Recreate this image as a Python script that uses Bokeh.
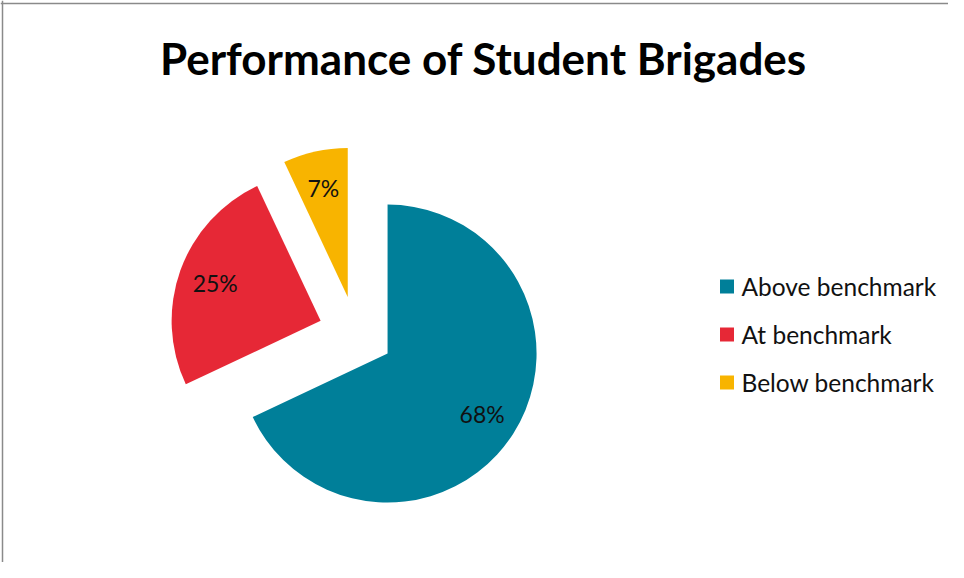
import numpy as np
from bokeh.plotting import figure
from bokeh.models import Range1d, Label, ColumnDataSource, Span
from bokeh.core.properties import value
from bokeh.embed import file_html
from bokeh.resources import INLINE

# ---- data ----
categories = ["Above benchmark", "At benchmark", "Below benchmark"]
shares = [68, 25, 7]
pct_labels = ["68%", "25%", "7%"]
colors = ["#007F99", "#E62836", "#F8B400"]
title_text = "Performance of Student Brigades"

# ---- layout (1 data unit = 1 px; y data = 578 - screen y) ----
W, H = 948, 562
CX, CY = 355.4, 245.0      # true pie centre
R = 149.0                  # radius
EXPLODE = 37.5             # explosion distance of every slice
LABEL_R = 112.0            # label distance from slice apex

frac = np.array(shares, dtype=float) / sum(shares)
cum = np.cumsum(frac)
start = np.pi / 2 - 2 * np.pi * (cum - frac)   # clockwise from 12 o'clock
end = np.pi / 2 - 2 * np.pi * cum
mid = (start + end) / 2
ax = CX + EXPLODE * np.cos(mid)
ay = CY + EXPLODE * np.sin(mid)

src = ColumnDataSource(dict(
    x=ax, y=ay, a0=end, a1=start, color=colors,
    lx=ax + LABEL_R * np.cos(mid), ly=ay + LABEL_R * np.sin(mid), lab=pct_labels,
))

p = figure(width=W, height=H, output_backend="svg", toolbar_location=None,
           x_range=Range1d(0, W), y_range=Range1d(578 - H, 578),
           x_axis_location=None, y_axis_location=None, min_border=0)
p.grid.visible = False
p.outline_line_color = None
p.background_fill_color = "white"
p.border_fill_color = "white"

# chart-area frame (left and top edges visible in the reference)
p.add_layout(Span(location=2, dimension="height", line_color="#8a8a8a", line_width=1.5))
p.add_layout(Span(location=578 - 3, dimension="width", line_color="#8a8a8a", line_width=1.5))

p.wedge(x="x", y="y", radius=R, start_angle="a0", end_angle="a1",
        direction="anticlock", fill_color="color", line_color=None, source=src)

p.text(x="lx", y="ly", text="lab", source=src, text_align="center",
       text_baseline="middle", text_font=value("Lato"), text_font_size="23px",
       text_color="#111111")

# title
p.add_layout(Label(x=483, y=578 - 57, text=title_text, text_align="center",
                   text_baseline="alphabetic", text_font="Lato",
                   text_font_style="bold", text_font_size="44px",
                   text_color="#000000"))

# legend (manual)
leg_y = 578 - (286 + 48 * np.arange(len(categories)))
leg_src = ColumnDataSource(dict(x=[726.5] * len(categories), tx=[741] * len(categories),
                                y=leg_y, color=colors, name=categories))
p.scatter(x="x", y="y", marker="square", size=14, fill_color="color",
          line_color=None, source=leg_src)
p.text(x="tx", y="y", text="name", source=leg_src, text_align="left",
       text_baseline="middle", text_font=value("Lato"), text_font_size="24.5px",
       text_color="#111111")

open("out.html", "w").write(file_html(p, INLINE))
